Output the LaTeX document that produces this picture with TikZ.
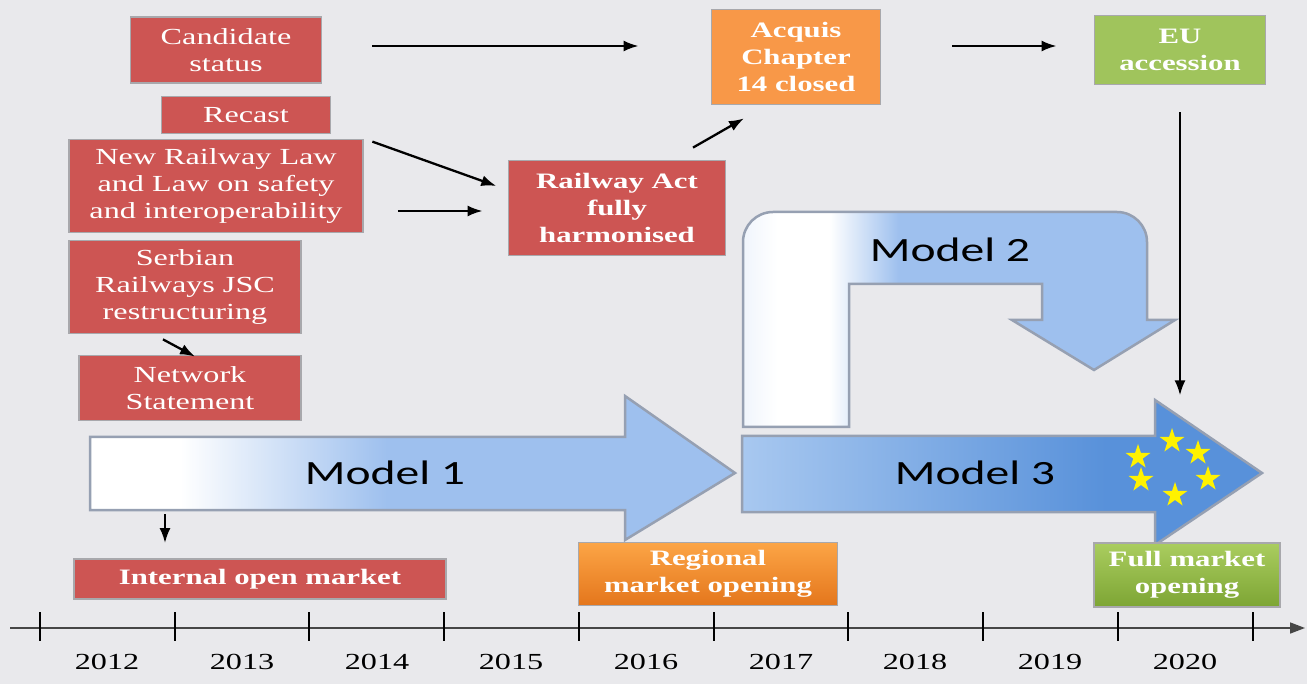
\documentclass[tikz,border=0pt]{standalone}
\usepackage{fontspec}
\setmainfont{Liberation Serif}
\newfontfamily\boxfont[FakeStretch=1.4]{Liberation Serif}
\newfontfamily\modelfont[FakeStretch=1.4]{Carlito}
\usetikzlibrary{arrows.meta,shapes.geometric,calc}
\definecolor{bgc}{RGB}{233,233,236}
\definecolor{boxred}{RGB}{205,85,83}
\definecolor{boxorange}{RGB}{248,152,72}
\definecolor{boxgreen}{RGB}{160,196,92}
\definecolor{mblue}{RGB}{158,192,238}
\definecolor{mlight}{RGB}{168,200,240}
\definecolor{mdark}{RGB}{88,145,218}
\definecolor{mpale}{RGB}{240,245,252}
\definecolor{edgec}{RGB}{150,160,178}
\definecolor{boxedge}{RGB}{168,168,172}
\definecolor{axisc}{RGB}{70,70,70}
\pgfdeclarehorizontalshading{mone}{100bp}{color(0bp)=(white); color(32bp)=(white); color(48bp)=(mblue); color(100bp)=(mblue)}
\pgfdeclarehorizontalshading{mtwo}{100bp}{color(0bp)=(mpale); color(25bp)=(mpale); color(29bp)=(white); color(35bp)=(white); color(43bp)=(mblue); color(100bp)=(mblue)}
\pgfdeclarehorizontalshading{mthree}{100bp}{color(0bp)=(mlight); color(25bp)=(mlight); color(60bp)=(mdark); color(100bp)=(mdark)}
\tikzset{
  box/.style={draw=boxedge, line width=1.8pt, inner sep=0pt, align=center, text=white},
  redbox/.style={box, fill=boxred, font=\boxfont\fontsize{23}{27}\selectfont},
  boldbox/.style={box, font=\boxfont\bfseries\fontsize{22}{27}\selectfont},
  arr/.style={draw=black, line width=2.3pt, -{Latex[length=15pt,width=11pt]}},
  bigarrow/.style={draw=edgec, line width=2.5pt, line join=miter},
  modeltext/.style={font=\modelfont\fontsize{34}{40}\selectfont, text=black},
  yearlbl/.style={font=\boxfont\fontsize{23}{27}\selectfont, text=black},
  euflag/.style={star, star points=5, star point ratio=2.6, fill=yellow, inner sep=0pt, minimum size=26pt}
}
\begin{document}
\begin{tikzpicture}[x=1pt,y=-1pt]
\useasboundingbox (0,0) rectangle (1307,684);
\fill[bgc] (0,0) rectangle (1307,684);

% Model 2 bent arrow
\path[shade, shading=mtwo, bigarrow] (743,427) [rounded corners=30pt] -- (743,212) -- (1147,212) [sharp corners] -- (1147,320) -- (1175,320) -- (1094,370) -- (1012,320) -- (1042,320) -- (1042,284) -- (849,284) -- (849,427) -- cycle;
\node[modeltext] (m2) at (950,250) {Model 2};

% Model 1 arrow
\path[shade, shading=mone, bigarrow] (90,437) -- (625,437) -- (625,396) -- (735,473) -- (625,540) -- (625,510) -- (90,510) -- cycle;
\node[modeltext] (m1) at (385,473) {Model 1};

% Model 3 arrow
\path[shade, shading=mthree, bigarrow] (742,436) -- (1155,436) -- (1155,400) -- (1262,473) -- (1155,545) -- (1155,512) -- (742,512) -- cycle;
\node[modeltext] (m3) at (975,473) {Model 3};
\foreach \sx/\sy [count=\i] in {1172/441,1198/453,1138/457,1141/480,1208/479,1175/495}
  \node[euflag] (star\i) at (\sx,\sy) {};

% Boxes
\node[redbox, minimum width=191pt, minimum height=66pt] (cand) at (226,50) {Candidate\\status};
\node[redbox, minimum width=169pt, minimum height=37pt] (recast) at (246,115) {Recast};
\node[redbox, minimum width=294pt, minimum height=93pt] (newlaw) at (216,186) {New Railway Law\\and Law on safety\\and interoperability};
\node[redbox, minimum width=232pt, minimum height=93pt] (serb) at (185,287) {Serbian\\Railways JSC\\restructuring};
\node[redbox, minimum width=222pt, minimum height=65pt] (net) at (190,388) {Network\\Statement};
\node[boldbox, fill=boxred, minimum width=372pt, minimum height=40pt] (int) at (260,579) {Internal open market};
\node[boldbox, fill=boxred, minimum width=217pt, minimum height=95pt] (act) at (617,208) {Railway Act\\fully\\harmonised};
\node[boldbox, fill=boxorange, minimum width=169pt, minimum height=95pt] (acq) at (796,57) {Acquis\\Chapter\\14 closed};
\node[boldbox, fill=boxgreen, minimum width=171pt, minimum height=69pt] (eu) at (1180,50) {EU\\accession};
\node[boldbox, top color={rgb,255:red,252;green,165;blue,70}, bottom color={rgb,255:red,228;green,118;blue,28}, minimum width=259pt, minimum height=63pt] (reg) at (708,574) {Regional\\market opening};
\node[boldbox, top color={rgb,255:red,170;green,205;blue,95}, bottom color={rgb,255:red,125;green,165;blue,52}, minimum width=186pt, minimum height=64pt] (full) at (1187,575) {Full market\\opening};

% Connectors
\draw[arr, shorten <=50pt, shorten >=72pt] ([yshift=4pt]cand.east) -- ([yshift=4pt]cand.east -| acq.west);
\draw[arr, shorten <=71pt, shorten >=37pt] ([yshift=4pt]eu.west -| acq.east) -- ([yshift=4pt]eu.west);
\draw[arr, shorten <=9pt, shorten >=12pt] (newlaw.north east) -- ([yshift=18pt]act.west);
\draw[arr, shorten <=34pt, shorten >=25pt] ([yshift=-25pt]newlaw.east) -- ([yshift=-25pt]newlaw.east -| act.west);
\draw[arr] ([xshift=76pt,yshift=12pt]act.north) -- ([xshift=-52pt,yshift=-13pt]acq.south);
\draw[arr] ([xshift=-22pt,yshift=-5pt]serb.south) -- ([xshift=5pt,yshift=-2pt]net.north);
\draw[arr] ([xshift=-95pt,yshift=44pt]int.north) -- ([xshift=-95pt,yshift=15pt]int.north);
\draw[arr, shorten <=27pt] (eu.south) -- ([yshift=-310pt]eu.south);

% Timeline
\coordinate (tl0) at (10,628);
\coordinate (tl1) at (1305,628);
\draw[axisc, line width=1.6pt, -{Triangle[length=15pt,width=11pt]}] (tl0) -- (tl1);
\foreach \tx in {40,175,309,444,579,714,848,983,1118,1253}
  \draw[black, line width=1.3pt] (\tx,612) -- (\tx,641);
\foreach \yx/\yr in {107/2012,242/2013,377/2014,511/2015,646/2016,781/2017,915/2018,1050/2019,1185/2020}
  \node[yearlbl] (y\yr) at (\yx,662) {\yr};
\end{tikzpicture}
\end{document}
